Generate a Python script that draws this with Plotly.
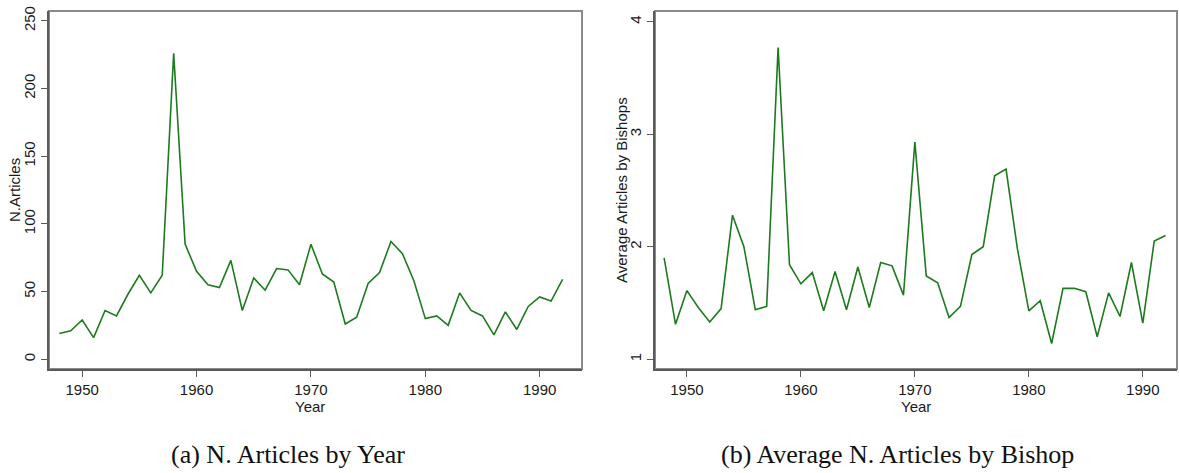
"""Two Stata-style line panels: article counts per year and average per bishop."""

import plotly.graph_objects as go

W, H = 1179, 473

LINE = "#1e7a1e"
AXIS = "#5a5a5a"
FRAME = "#8a8a8a"
INK = "#1a1a1a"

years = list(range(1948, 1993))

n_articles = [19, 21, 29, 16, 36, 32, 48, 62, 49, 62,
              226, 85, 65, 55, 53, 73, 36, 60, 51, 67,
              66, 55, 85, 63, 57, 26, 31, 56, 64, 87,
              78, 58, 30, 32, 25, 49, 36, 32, 18, 35,
              22, 39, 46, 43, 59]

avg_by_bishop = [1.90, 1.31, 1.61, 1.46, 1.33, 1.45, 2.28, 2.00, 1.44, 1.47,
                 3.77, 1.84, 1.67, 1.77, 1.43, 1.78, 1.44, 1.82, 1.46, 1.86,
                 1.83, 1.57, 2.93, 1.74, 1.68, 1.37, 1.47, 1.93, 2.00, 2.63,
                 2.69, 1.98, 1.43, 1.52, 1.14, 1.63, 1.63, 1.60, 1.20, 1.59,
                 1.38, 1.86, 1.32, 2.05, 2.10]

x_ticks = [1950, 1960, 1970, 1980, 1990]
left_ticks = [0, 50, 100, 150, 200, 250]
right_ticks = [1, 2, 3, 4]

y_titles = ["N.Articles", "Average Articles by Bishops"]
captions = ["(a) N. Articles by Year", "(b) Average N. Articles by Bishop"]


def px_x(p):
    return p / W


def px_y(p):
    return 1 - p / H


_TICKFONT = dict(family="Liberation Sans, Arial, sans-serif", size=15, color=INK)

_X = dict(
    tickvals=x_ticks,
    ticks="outside", ticklen=6, tickwidth=1.2, tickcolor=AXIS,
    showline=True, linecolor=AXIS, linewidth=2, mirror=False,
    showgrid=False, zeroline=False,
    tickfont=_TICKFONT,
)

_Y = dict(
    ticks="outside", ticklen=6, tickwidth=1.2, tickcolor=AXIS,
    showline=True, linecolor=AXIS, linewidth=2, mirror=False,
    showgrid=False, zeroline=False,
    tickangle=-90,
    tickfont=_TICKFONT,
)

fig = go.Figure()
fig.add_trace(go.Scatter(x=years, y=n_articles, mode="lines",
                         line=dict(color=LINE, width=1.6),
                         xaxis="x", yaxis="y", showlegend=False))
fig.add_trace(go.Scatter(x=years, y=avg_by_bishop, mode="lines",
                         line=dict(color=LINE, width=1.6),
                         xaxis="x2", yaxis="y2", showlegend=False))

ydom = [px_y(368), px_y(6)]

fig.update_layout(
    width=W, height=H,
    paper_bgcolor="white", plot_bgcolor="white",
    margin=dict(l=0, r=0, t=0, b=0),
    xaxis=dict(domain=[px_x(49), px_x(582)], range=[1947.1, 1993.7],
               anchor="y", **_X),
    yaxis=dict(domain=ydom, range=[-7.3, 257.3], tickvals=left_ticks,
               anchor="x", **_Y),
    xaxis2=dict(domain=[px_x(655), px_x(1177)], range=[1947.2, 1993.0],
                anchor="y2", **_X),
    yaxis2=dict(domain=ydom, range=[0.912, 4.096], tickvals=right_ticks,
                anchor="x2", **_Y),
)

# light box around each plot region (top and right sides)
for x0, x1 in ((49, 582), (655, 1177)):
    fig.add_shape(type="rect", xref="paper", yref="paper",
                  x0=px_x(x0), x1=px_x(x1), y0=ydom[0], y1=ydom[1],
                  line=dict(color=FRAME, width=2), layer="below")

# axis titles placed by hand, tight to the tick labels as Stata draws them
for cx in (310, 916):
    fig.add_annotation(text="Year", x=px_x(cx), y=px_y(406), xref="paper", yref="paper",
                       showarrow=False, xanchor="center", yanchor="middle",
                       font=_TICKFONT)

for text, cx in zip(y_titles, (14, 621)):
    fig.add_annotation(text=text, x=px_x(cx), y=(ydom[0] + ydom[1]) / 2,
                       xref="paper", yref="paper", textangle=-90,
                       showarrow=False, xanchor="center", yanchor="middle",
                       font=_TICKFONT)

for text, cx in zip(captions, (288, 897)):
    fig.add_annotation(text=text, x=px_x(cx), y=px_y(454), xref="paper", yref="paper",
                       showarrow=False, xanchor="center", yanchor="middle",
                       font=dict(family="Liberation Serif, Times New Roman, serif",
                                 size=26, color="#111111"))

# the page's default body margin would push the figure off the window
fig.write_html("out.html", config={"displayModeBar": False},
               post_script="document.body.style.margin='0';")
